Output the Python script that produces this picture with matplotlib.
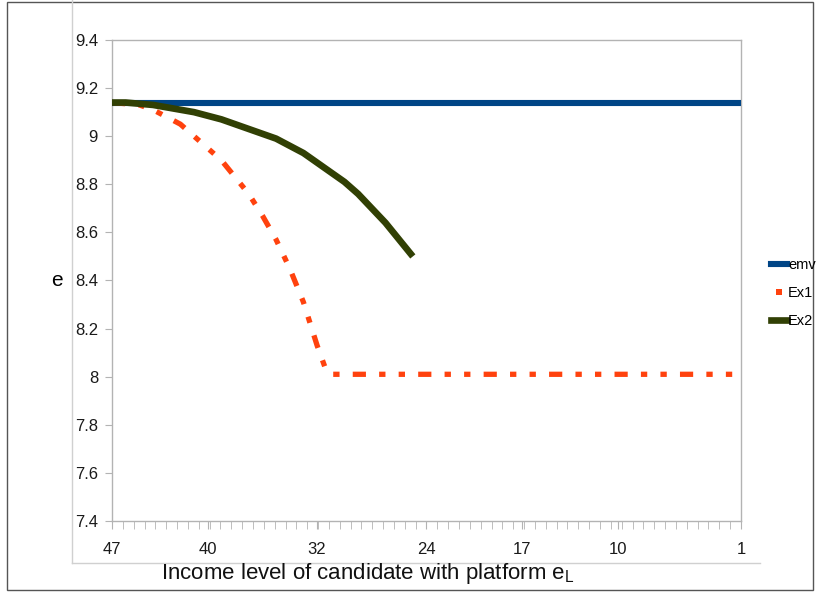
import matplotlib
matplotlib.use("Agg")
import matplotlib.pyplot as plt
import numpy as np
from matplotlib.lines import Line2D

plt.rcParams['font.family'] = ['Liberation Sans Narrow', 'Liberation Sans', 'DejaVu Sans']

# ---- data ----
x_emv = [47, 1]
emv = [9.14, 9.14]

x_ex1 = [47, 45, 44, 43, 42, 41, 40, 39, 38, 37, 36, 35, 34, 33, 32, 31.3, 31, 1]
ex1 = [9.14, 9.13, 9.11, 9.08, 9.05, 9.00, 8.95, 8.90, 8.83, 8.76, 8.67, 8.57, 8.45, 8.31, 8.13, 8.02, 8.01, 8.01]

x_ex2 = [47, 46, 45, 44, 43, 42, 41, 40, 39, 38, 37, 36, 35, 34, 33, 32, 31, 30, 29, 28, 27, 26, 25]
ex2 = [9.14, 9.14, 9.135, 9.13, 9.12, 9.11, 9.10, 9.085, 9.07, 9.05, 9.03, 9.01, 8.99, 8.96, 8.93, 8.89, 8.85, 8.81, 8.76, 8.70, 8.64, 8.57, 8.50]

xtick_vals = [47, 40, 32, 24, 17, 10, 1]
ytick_vals = [7.4, 7.6, 7.8, 8, 8.2, 8.4, 8.6, 8.8, 9, 9.2, 9.4]

W, H = 820, 593
fig = plt.figure(figsize=(W / 100, H / 100), dpi=100)
ax = fig.add_axes([112 / W, 1 - 521 / H, (741 - 112) / W, (521 - 40) / H])

blue = '#004586'
red = '#ff420e'
green = '#314004'

ax.plot(x_emv, emv, color=blue, lw=4.4, solid_capstyle='butt', zorder=3)
ax.plot(x_ex1, ex1, color=red, lw=3.8, linestyle=(0, (2.5, 2.5, 1.2, 2.5, 1.2, 2.5)),
        dash_capstyle='butt', zorder=4)
ax.plot(x_ex2, ex2, color=green, lw=4.8, solid_capstyle='butt', solid_joinstyle='round', zorder=5)

ax.set_xlim(47, 1)
ax.set_ylim(7.4, 9.4)
ax.set_xticks(xtick_vals)
ax.set_xticklabels([str(v) for v in xtick_vals])
ax.set_xticks(np.linspace(47, 1, 59), minor=True)
ax.set_yticks(ytick_vals)
ax.set_yticklabels(['{:g}'.format(v) for v in ytick_vals])

grey = '#b3b3b3'
for s in ax.spines.values():
    s.set_color(grey)
    s.set_linewidth(1.0)
ax.tick_params(axis='both', which='both', color=grey, direction='out', labelsize=12,
               labelcolor='#1a1a1a')
ax.tick_params(axis='x', which='both', length=6, pad=9)
ax.tick_params(axis='y', which='major', length=5, pad=5)

ax.set_ylabel('e', rotation=0, fontsize=15, va='center')
ax.yaxis.set_label_coords(-0.087, 0.5)
fig.text(368 / W, 1 - 573 / H, r'Income level of candidate with platform e$_\mathregular{L}$',
         ha='center', va='center', fontsize=16, color='#111111')

# legend
handles = [Line2D([0], [0], color=blue, lw=4.4),
           Line2D([0], [0], color=red, lw=0, marker='s', markersize=4.5, markeredgewidth=0),
           Line2D([0], [0], color=green, lw=4.8)]
leg = fig.legend(handles, ['emv', 'Ex1', 'Ex2'], loc='center left',
                 bbox_to_anchor=(764 / W, 1 - 293 / H), frameon=False, fontsize=10.5,
                 handlelength=1.05, handletextpad=0.1, labelspacing=0.95, borderpad=0)

# outer frames
fig.add_artist(Line2D([72 / W, 72 / W], [1 - 563 / H, 1.0], color='#d0d0d0', lw=1.0))
fig.add_artist(Line2D([72 / W, 760 / W], [1 - 563 / H, 1 - 563 / H], color='#d0d0d0', lw=1.0))
fig.add_artist(plt.Rectangle((7 / W, 1 - 590 / H), (813 - 7) / W, (590 - 2) / H,
                             fill=False, edgecolor='#555555', lw=1.0, transform=fig.transFigure))

fig.savefig('out.png', dpi=100)
